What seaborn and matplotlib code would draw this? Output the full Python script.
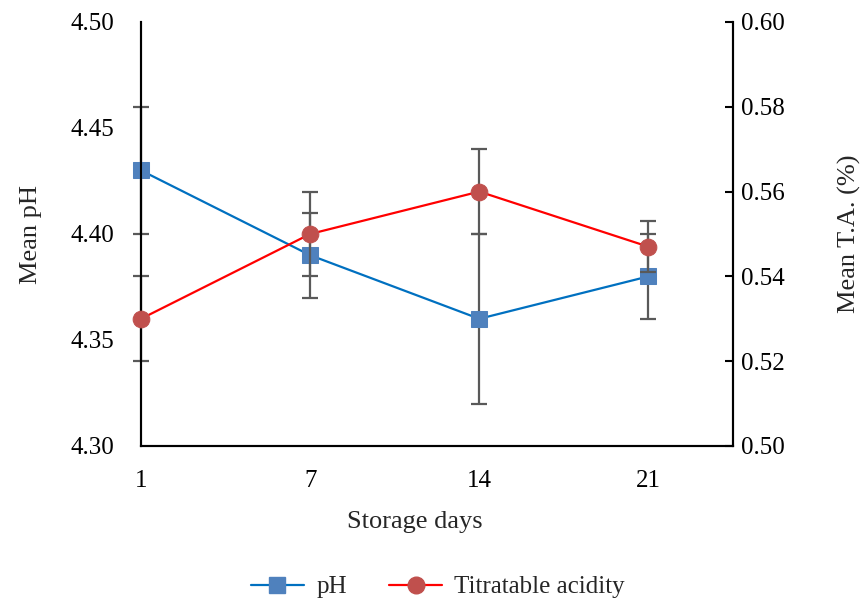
import matplotlib
matplotlib.use("Agg")
import matplotlib.pyplot as plt
import seaborn as sns
import pandas as pd
from matplotlib.lines import Line2D

days = ["1", "7", "14", "21"]
ph_mean = [4.43, 4.39, 4.36, 4.38]
ph_err = [0.03, 0.02, 0.04, 0.02]
ta_mean = [0.53, 0.55, 0.56, 0.547]
ta_err = [0.01, 0.01, 0.01, 0.006]

sns.set_style("white")
plt.rcParams['font.family'] = ['Liberation Serif', 'DejaVu Serif']
FS = 18
LFS = 19
plt.rcParams['font.size'] = FS

df = pd.DataFrame({"pos": range(len(days)), "day": days, "ph": ph_mean, "ta": ta_mean})

fig = plt.figure(figsize=(8.61, 6.02), dpi=100)
ax = fig.add_axes([141/861, 1-446/602, (733-141)/861, (446-22)/602])
ax2 = ax.twinx()

err_color = "#595959"
ax.errorbar(df["pos"], df["ph"], yerr=ph_err, fmt="none", ecolor=err_color,
            elinewidth=1.6, capsize=6, capthick=1.6, zorder=1, clip_on=False)
ax2.errorbar(df["pos"], df["ta"], yerr=ta_err, fmt="none", ecolor=err_color,
             elinewidth=1.6, capsize=6, capthick=1.6, zorder=1, clip_on=False)

sns.lineplot(data=df, x="pos", y="ph", ax=ax, color="#0070C0", linewidth=1.6,
             marker="s", markersize=11, markerfacecolor="#4F81BD",
             markeredgecolor="#4F81BD", zorder=3, clip_on=False)
sns.lineplot(data=df, x="pos", y="ta", ax=ax2, color="#FF0000", linewidth=1.6,
             marker="o", markersize=12, markerfacecolor="#C0504D",
             markeredgecolor="#C0504D", zorder=3, clip_on=False)

ax.set_xlim(0, 3.5)
ax.set_ylim(4.30, 4.50)
ax2.set_ylim(0.50, 0.60)
ax.set_xticks(range(len(days)))
ax.set_xticklabels(days)
ax.set_yticks([4.30, 4.35, 4.40, 4.45, 4.50])
ax.set_yticklabels([f"{v:.2f}" for v in [4.30, 4.35, 4.40, 4.45, 4.50]])
ax2.set_yticks([0.50, 0.52, 0.54, 0.56, 0.58, 0.60])
ax2.set_yticklabels([f"{v:.2f}" for v in [0.50, 0.52, 0.54, 0.56, 0.58, 0.60]])

for a in (ax, ax2):
    a.spines["top"].set_visible(False)
    for s in ("left", "right", "bottom"):
        a.spines[s].set_color("black")
        a.spines[s].set_linewidth(1.5)
    a.tick_params(labelsize=FS, colors="black")

ax.tick_params(axis="y", length=0, pad=19)
ax.tick_params(axis="x", length=0, pad=17)
ax2.tick_params(axis="y", direction="in", length=6, width=1.5, pad=6)

ax.set_xlabel("Storage days", fontsize=LFS, labelpad=14)
ax.xaxis.label.set_x((415-141)/592)
ax.set_ylabel("Mean pH", fontsize=LFS, labelpad=21)
ax2.set_ylabel("Mean T.A. (%)", fontsize=LFS, labelpad=38)

handles = [
    Line2D([], [], color="#0070C0", linewidth=1.6, marker="s", markersize=11,
           markerfacecolor="#4F81BD", markeredgecolor="#4F81BD"),
    Line2D([], [], color="#FF0000", linewidth=1.6, marker="o", markersize=12,
           markerfacecolor="#C0504D", markeredgecolor="#C0504D"),
]
fig.legend(handles, ["pH", "Titratable acidity"], loc="center",
           bbox_to_anchor=(438/861, 1-587/602), ncol=2, frameon=False,
           fontsize=FS, handlelength=2.1, handletextpad=0.5, columnspacing=1.7)

fig.savefig("out.png", dpi=100)
